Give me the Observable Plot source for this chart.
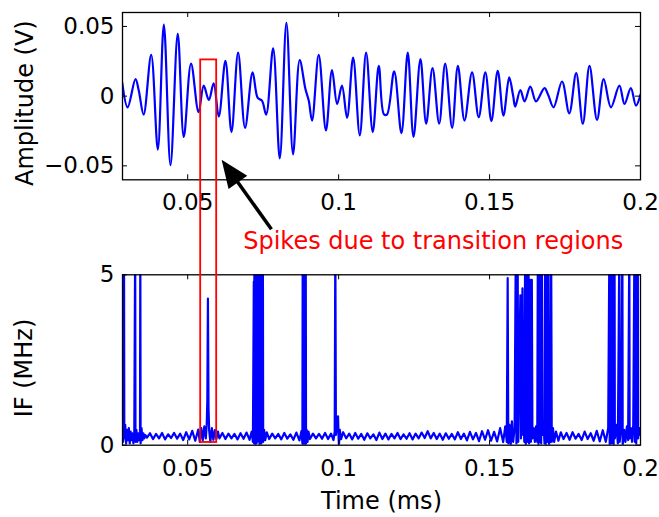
<!DOCTYPE html>
<html><head><meta charset="utf-8">
<script src="https://cdn.jsdelivr.net/npm/d3@7"></script>
<script src="https://cdn.jsdelivr.net/npm/@observablehq/plot@0.6"></script>
<style>
html,body{margin:0;padding:0;background:#fff;}
#chart{position:relative;width:659px;height:517px;font-family:"DejaVu Sans",sans-serif;background:#fff;}
#chart svg{position:absolute;left:0;}
</style></head><body><div id="chart"></div>
<script>
// ---- top panel: amplitude waveform (extrema) ----
const ampTime = [0.0283,0.0301,0.0327,0.0338,0.0354,0.0379,0.0401,0.0421,0.0443,0.0467,
  0.0487,0.0511,0.0536,0.0553,0.0570,0.0586,0.0603,0.0625,0.0645,0.0667,
  0.0690,0.0715,0.0732,0.0746,0.0760,0.0783,0.0805,0.0827,0.0849,0.0871,
  0.0890,0.0901,0.0912,0.0934,0.0958,0.0978,0.0995,0.1011,0.1028,0.1048,
  0.1070,0.1091,0.1113,0.1133,0.1150,0.1160,0.1184,0.1208,0.1229,0.1248,
  0.1271,0.1290,0.1311,0.1333,0.1353,0.1376,0.1395,0.1417,0.1442,0.1464,
  0.1486,0.1506,0.1527,0.1546,0.1565,0.1578,0.1585,0.1602,0.1616,0.1635,
  0.1654,0.1682,0.1695,0.1712,0.1740,0.1764,0.1787,0.1809,0.1831,0.1856,
  0.1878,0.1902,0.1930,0.1947,0.1968,0.1985,0.2000];
const ampValue = [0.0098,-0.0080,0.0122,0.0039,-0.0132,0.0296,-0.0383,0.0514,-0.0495,0.0447,
  -0.0293,0.0234,-0.0115,0.0075,-0.0027,0.0091,-0.0146,0.0253,-0.0258,0.0312,
  -0.0227,0.0170,-0.0013,-0.0032,-0.0132,0.0343,-0.0447,0.0526,-0.0417,0.0258,
  0.0051,-0.0032,-0.0175,0.0296,-0.0246,0.0187,-0.0056,0.0075,-0.0155,0.0276,
  -0.0281,0.0312,-0.0258,0.0217,-0.0130,-0.0132,0.0177,-0.0265,0.0312,-0.0293,
  0.0265,-0.0198,0.0201,-0.0198,0.0234,-0.0227,0.0217,-0.0175,0.0170,-0.0151,
  0.0170,-0.0179,0.0182,-0.0139,0.0134,0.0004,-0.0075,0.0044,-0.0037,0.0068,
  -0.0037,0.0058,0.0004,-0.0080,0.0105,-0.0123,0.0165,-0.0198,0.0217,-0.0170,
  0.0122,-0.0080,0.0075,-0.0056,0.0058,-0.0068,0.0011];

// ---- bottom panel: instantaneous frequency (MHz), spikes exceed the 5 MHz top ----
const ifTime = [
  0.0284,0.0285,0.0286,0.0288,0.0289,0.0290,0.0293,0.0296,0.0299,0.0302,
  0.0305,0.0308,0.0311,0.0314,0.0317,0.0320,0.0323,0.0326,0.0327,0.0330,
  0.0333,0.0336,0.0339,0.0342,0.0343,0.0344,0.0347,0.0350,0.0353,0.0356,
  0.0359,0.0365,0.0375,0.0385,0.0395,0.0405,0.0415,0.0425,0.0435,0.0445,
  0.0455,0.0465,0.0475,0.0485,0.0495,0.0505,0.0515,0.0525,0.0535,0.0540,
  0.0545,0.0550,0.0555,0.0560,0.0563,0.0565,0.0567,0.0569,0.0571,0.0575,
  0.0580,0.0585,0.0590,0.0595,0.0600,0.0605,0.0615,0.0625,0.0635,0.0645,
  0.0655,0.0665,0.0675,0.0685,0.0695,0.0705,0.0712,0.0716,0.0719,0.0720,
  0.0721,0.0722,0.0723,0.0724,0.0725,0.0726,0.0727,0.0728,0.0729,0.0730,
  0.0733,0.0735,0.0736,0.0737,0.0738,0.0740,0.0741,0.0743,0.0744,0.0746,
  0.0747,0.0749,0.0750,0.0753,0.0757,0.0762,0.0770,0.0780,0.0790,0.0800,
  0.0810,0.0820,0.0830,0.0840,0.0850,0.0860,0.0870,0.0877,0.0880,0.0881,
  0.0882,0.0883,0.0884,0.0885,0.0886,0.0887,0.0888,0.0889,0.0890,0.0891,
  0.0892,0.0894,0.0897,0.0900,0.0905,0.0915,0.0925,0.0935,0.0945,0.0955,
  0.0965,0.0975,0.0983,0.0987,0.0989,0.0991,0.0995,0.0998,0.1000,0.1001,
  0.1004,0.1008,0.1015,0.1025,0.1035,0.1045,0.1055,0.1065,0.1075,0.1085,
  0.1095,0.1105,0.1115,0.1125,0.1135,0.1145,0.1155,0.1165,0.1175,0.1185,
  0.1195,0.1205,0.1215,0.1225,0.1235,0.1245,0.1255,0.1265,0.1275,0.1285,
  0.1295,0.1305,0.1315,0.1325,0.1335,0.1345,0.1355,0.1365,0.1375,0.1385,
  0.1395,0.1405,0.1415,0.1425,0.1435,0.1445,0.1455,0.1465,0.1475,0.1485,
  0.1495,0.1505,0.1515,0.1525,0.1535,0.1545,0.1552,0.1557,0.1560,0.1562,
  0.1566,0.1570,0.1574,0.1578,0.1583,0.1587,0.1589,0.1593,0.1595,0.1602,
  0.1604,0.1609,0.1611,0.1613,0.1615,0.1618,0.1620,0.1624,0.1626,0.1629,
  0.1631,0.1635,0.1637,0.1640,0.1642,0.1646,0.1650,0.1654,0.1658,0.1660,
  0.1662,0.1665,0.1667,0.1669,0.1671,0.1673,0.1675,0.1679,0.1682,0.1684,
  0.1686,0.1690,0.1692,0.1695,0.1697,0.1700,0.1702,0.1704,0.1706,0.1710,
  0.1714,0.1720,0.1728,0.1736,0.1745,0.1755,0.1765,0.1775,0.1785,0.1795,
  0.1805,0.1815,0.1825,0.1835,0.1845,0.1855,0.1865,0.1875,0.1885,0.1893,
  0.1897,0.1898,0.1900,0.1901,0.1903,0.1904,0.1906,0.1907,0.1910,0.1911,
  0.1914,0.1915,0.1920,0.1925,0.1930,0.1931,0.1936,0.1940,0.1941,0.1946,
  0.1950,0.1955,0.1959,0.1963,0.1964,0.1968,0.1972,0.1976,0.1980,0.1981,
  0.1985,0.1986,0.1991,0.1992,0.1996,0.2000];
const ifValue = [
  0.35,4.6,0.1,0.5,6,0.2,0.6,0.05,0.45,0.15,
  0.5,0.05,0.4,0.15,0.35,0.05,0.3,6,0.1,0.45,
  0.1,0.35,0.15,0.4,6,0.05,0.5,0.15,0.35,0.2,
  0.3,0.22,0.35,0.18,0.33,0.20,0.36,0.17,0.32,0.21,
  0.36,0.19,0.34,0.15,0.38,0.17,0.42,0.13,0.46,0.10,
  0.50,0.15,0.55,0.20,0.6,1.3,4.3,1.1,0.45,0.1,
  0.5,0.16,0.44,0.18,0.40,0.20,0.36,0.18,0.34,0.20,
  0.33,0.17,0.35,0.19,0.37,0.16,0.40,0.1,4.8,0.05,
  6,0.1,4.9,0.0,6,0.2,6,0.05,4.7,0.1,
  6,6,0.1,6,0.0,6,0.15,6,0.05,6,
  0.2,6,0.1,0.45,0.15,0.38,0.18,0.34,0.20,0.33,
  0.17,0.36,0.19,0.32,0.16,0.37,0.14,0.42,0.05,6,
  0.0,6,0.05,6,0.0,6,0.1,6,0.0,6,
  0.05,0.45,0.1,0.40,0.18,0.34,0.20,0.33,0.19,0.36,
  0.18,0.34,0.15,0.4,6,0.3,0.6,0.85,0.2,0.0,
  0.45,0.18,0.38,0.20,0.34,0.17,0.36,0.19,0.33,0.16,
  0.35,0.20,0.32,0.15,0.37,0.18,0.34,0.17,0.33,0.20,
  0.36,0.18,0.32,0.19,0.35,0.17,0.34,0.20,0.37,0.21,
  0.41,0.20,0.36,0.18,0.34,0.16,0.35,0.19,0.33,0.17,
  0.38,0.18,0.34,0.14,0.39,0.17,0.36,0.12,0.41,0.16,
  0.44,0.13,0.39,0.11,0.50,0.09,0.55,0.1,4.9,0.05,
  0.6,0.0,0.7,0.1,0.5,6,0.05,6,0.1,4.4,
  0.2,4.6,0.3,1.0,0.1,6,0.0,6,0.1,6,
  0.05,4.85,0.1,4.85,0.2,0.5,0.1,0.55,0.1,6,
  0.0,6,0.1,6,0.05,6,0.3,0.6,0.05,6,
  0.0,6,0.1,6,0.0,0.55,0.1,6,0.1,0.5,
  0.1,0.40,0.13,0.38,0.18,0.36,0.16,0.38,0.19,0.33,
  0.15,0.40,0.18,0.35,0.13,0.42,0.11,0.44,0.1,0.5,
  6,0.0,6,0.1,6,0.05,6,0.3,6,0.0,
  6,0.2,0.6,0.05,6,0.1,0.5,6,0.0,0.45,
  0.1,0.55,0.15,6,0.2,0.5,0.1,0.6,6,0.1,
  6,0.05,6,0.2,0.5,0.3];

// ---- axes ----
const timeDomain = [0.0284, 0.2];
const ampDomain = [-0.06, 0.06];
const ifDomain = [0, 5];
const xTickValues = [0.05, 0.1, 0.15, 0.2];
const xTickLabels = ["0.05", "0.1", "0.15", "0.2"];
const ampTickValues = [-0.05, 0, 0.05];
const ampTickLabels = ["\u22120.05", "0", "0.05"];
const ifTickValues = [0, 5];
const ifTickLabels = ["0", "5"];
const ampLabel = "Amplitude (V)";
const ifLabel = "IF (MHz)";
const timeLabel = "Time (ms)";

// ---- annotation (data coordinates) ----
const annotationText = "Spikes due to transition regions";
const boxTime = [0.0543, 0.0596];
const boxAmpTop = 0.026;
const boxIfBottom = 0.08;
const arrowTail = [0.0779, -0.0958];
const arrowTip = [0.0614, -0.0459];
const textAt = [0.1315, -0.110];

const W = 659, ML = 122, MR = 19;
const BLUE = "#0000ff";
const fmt = (vals, labs) => d => labs[vals.indexOf(d)] ?? "";

const ampData = ampTime.map((t, i) => ({t, v: ampValue[i]}));
const ifData = ifTime.map((t, i) => ({t, v: ifValue[i]}));

function inwardTicks(xVals, yVals, innerW, innerH) {
  const s = {stroke: "#000", strokeWidth: 1};
  return [
    Plot.ruleX(xVals, {x: d => d, insetTop: innerH - 5, ...s}),
    Plot.ruleX(xVals, {x: d => d, insetBottom: innerH - 5, ...s}),
    Plot.ruleY(yVals, {y: d => d, insetRight: innerW - 5, ...s}),
    Plot.ruleY(yVals, {y: d => d, insetLeft: innerW - 5, ...s})
  ];
}

const topH = 250, topMT = 12, topMB = 70.7;
const botH = 267, botMT = 24.3, botMB = 72.3;
const innerW = W - ML - MR;

const style = {fontFamily: "DejaVu Sans, sans-serif", fontSize: "23px", background: "transparent", color: "#000", overflow: "visible"};

const topPlot = Plot.plot({
  width: W, height: topH, marginLeft: ML, marginRight: MR, marginTop: topMT, marginBottom: topMB,
  style,
  x: {domain: timeDomain, ticks: xTickValues, tickFormat: fmt(xTickValues, xTickLabels), tickSize: 0, tickPadding: 14, label: null},
  y: {domain: ampDomain, ticks: ampTickValues, tickFormat: fmt(ampTickValues, ampTickLabels), tickSize: 0, tickPadding: 8, label: null},
  marks: [
    Plot.line(ampData, {x: "t", y: "v", curve: "catmull-rom", stroke: BLUE, strokeWidth: 2.2, clip: true}),
    ...inwardTicks(xTickValues, ampTickValues, innerW, topH - topMT - topMB),
    Plot.frame({stroke: "#000", strokeWidth: 1.3}),
    Plot.text([ampLabel], {text: d => d, frameAnchor: "left", dx: -97, dy: 7, rotate: -90, textAnchor: "middle", lineAnchor: "middle", fontSize: 24, fill: "#000"})
  ]
});

const botPlot = Plot.plot({
  width: W, height: botH, marginLeft: ML, marginRight: MR, marginTop: botMT, marginBottom: botMB,
  style,
  x: {domain: timeDomain, ticks: xTickValues, tickFormat: fmt(xTickValues, xTickLabels), tickSize: 0, tickPadding: 14, label: null},
  y: {domain: ifDomain, ticks: ifTickValues, tickFormat: fmt(ifTickValues, ifTickLabels), tickSize: 0, tickPadding: 8, label: null},
  marks: [
    Plot.line(ifData, {x: "t", y: "v", stroke: BLUE, strokeWidth: 2.2, clip: true}),
    ...inwardTicks(xTickValues, ifTickValues, innerW, botH - botMT - botMB),
    Plot.frame({stroke: "#000", strokeWidth: 1.3}),
    Plot.text([ifLabel], {text: d => d, frameAnchor: "left", dx: -98, dy: 8, rotate: -90, textAnchor: "middle", lineAnchor: "middle", fontSize: 24, fill: "#000"}),
    Plot.text([timeLabel], {text: d => d, frameAnchor: "bottom", dy: 56, textAnchor: "middle", lineAnchor: "middle", fontSize: 24, fill: "#000"})
  ]
});

const chart = document.getElementById("chart");
topPlot.style.top = "0px";
botPlot.style.top = topH + "px";
chart.appendChild(topPlot);
chart.appendChild(botPlot);

function scaleFn(plot, name) {
  const s = plot.scale(name);
  if (s && typeof s.apply === "function") return v => s.apply(v);
  return d3.scaleLinear().domain(s.domain).range(s.range);
}
const tx = scaleFn(topPlot, "x"), ty = scaleFn(topPlot, "y");
const by = scaleFn(botPlot, "y");

const ov = d3.create("svg").attr("width", W).attr("height", 517)
  .style("top", "0px").style("pointer-events", "none").style("overflow", "visible");

// red box spanning both panels
const x1 = tx(boxTime[0]), x2 = tx(boxTime[1]);
const y1 = ty(boxAmpTop), y2 = topH + by(boxIfBottom);
ov.append("rect").attr("x", x1).attr("y", y1).attr("width", x2 - x1).attr("height", y2 - y1)
  .attr("fill", "none").attr("stroke", "#ff0000").attr("stroke-width", 1.8);

// arrow
const ax0 = tx(arrowTail[0]), ay0 = ty(arrowTail[1]);
const ax1 = tx(arrowTip[0]), ay1 = ty(arrowTip[1]);
const ddx = ax0 - ax1, ddy = ay0 - ay1, L = Math.hypot(ddx, ddy);
const ux = ddx / L, uy = ddy / L, headLen = 28, headHalf = 11.5;
const bxp = ax1 + ux * headLen, byp = ay1 + uy * headLen;
ov.append("line").attr("x1", ax0).attr("y1", ay0).attr("x2", bxp - ux * 2).attr("y2", byp - uy * 2)
  .attr("stroke", "#000").attr("stroke-width", 3.5);
ov.append("polygon")
  .attr("points", [[ax1, ay1], [bxp - uy * headHalf, byp + ux * headHalf], [bxp + uy * headHalf, byp - ux * headHalf]].map(p => p.join(",")).join(" "))
  .attr("fill", "#000");

// annotation text
ov.append("text").attr("x", tx(textAt[0])).attr("y", ty(textAt[1]))
  .attr("text-anchor", "middle").attr("font-family", "DejaVu Sans, sans-serif").attr("font-size", 24)
  .attr("fill", "#ff0000").text(annotationText);

chart.appendChild(ov.node());
</script></body></html>
